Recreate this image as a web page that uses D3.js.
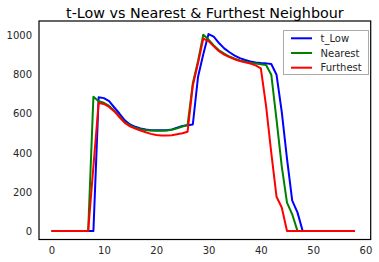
<!DOCTYPE html>
<html>
<head>
<meta charset="utf-8">
<script src="https://cdn.jsdelivr.net/npm/d3@7"></script>
<style>
  body { margin: 0; background: #fff; }
  text { font-family: "DejaVu Sans", sans-serif; }
</style>
</head>
<body>
<svg id="chart"></svg>
<script>
// Data
const steps = [0, 1, 2, 3, 4, 5, 6, 7, 8, 9, 10, 11, 12, 13, 14, 15, 16, 17, 18, 19,
  20, 21, 22, 23, 24, 25, 26, 27, 28, 29, 30, 31, 32, 33, 34, 35, 36, 37, 38, 39,
  40, 41, 42, 43, 44, 45, 46, 47, 48, 49, 50, 51, 52, 53, 54, 55, 56, 57, 58];

const tLow = [0, 0, 0, 0, 0, 0, 0, 0, 0, 684, 680, 665, 632, 600, 566, 545, 533, 525, 519, 516,
  515, 515, 516, 520, 529, 537, 541, 545, 790, 905, 1008, 995, 962, 935, 915, 898, 885, 875, 868, 863,
  860, 858, 855, 800, 610, 370, 155, 95, 0, 0, 0, 0, 0, 0, 0, 0, 0, 0, 0];

const nearest = [0, 0, 0, 0, 0, 0, 0, 0, 687, 664, 656, 640, 615, 585, 556, 540, 528, 521, 517, 514,
  513, 513, 514, 518, 525, 535, 542, 756, 870, 1005, 980, 950, 925, 908, 893, 882, 873, 866, 861, 857,
  853, 850, 800, 570, 330, 145, 85, 0, 0, 0, 0, 0, 0, 0, 0, 0, 0, 0, 0];

const furthest = [0, 0, 0, 0, 0, 0, 0, 0, 330, 655, 650, 635, 612, 582, 553, 535, 524, 514, 505, 497,
  491, 489, 488, 490, 495, 500, 508, 745, 860, 985, 972, 945, 920, 903, 890, 879, 870, 863, 857, 848,
  833, 640, 400, 175, 120, 0, 0, 0, 0, 0, 0, 0, 0, 0, 0, 0, 0, 0, 0];

const seriesNames = ["t_Low", "Nearest", "Furthest"];
const seriesColors = ["#0000ff", "#008000", "#ff0000"];
const xTicks = [0, 10, 20, 30, 40, 50, 60];
const yTicks = [0, 200, 400, 600, 800, 1000];

// Dimensions
const Width = 379;
const Height = 262;
const plotLeft = 39, plotRight = 370.7, plotTop = 21, plotBottom = 239.5;

const svg = d3.select("#chart")
  .attr("width", Width)
  .attr("height", Height);

const xScale = d3.scaleLinear().domain([-2.4, 61]).range([plotLeft, plotRight]);
const yScale = d3.scaleLinear().domain([-44, 1075]).range([plotBottom, plotTop]);

// Axes (no tick marks, just labels)
const xAxis = svg.append("g")
  .attr("transform", `translate(0, ${plotBottom})`)
  .call(d3.axisBottom(xScale).tickValues(xTicks).tickSize(0).tickPadding(7).tickFormat(d3.format("d")));
xAxis.select(".domain").remove();
xAxis.selectAll("text").attr("font-size", 10).attr("fill", "#262626")
  .style("font-family", "DejaVu Sans");

const yAxis = svg.append("g")
  .attr("transform", `translate(${plotLeft}, 0)`)
  .call(d3.axisLeft(yScale).tickValues(yTicks).tickSize(0).tickPadding(7).tickFormat(d3.format("d")));
yAxis.select(".domain").remove();
yAxis.selectAll("text").attr("font-size", 10).attr("fill", "#262626")
  .style("font-family", "DejaVu Sans");

// Lines
const seriesData = [tLow, nearest, furthest];
const line = d3.line()
  .x((d, i) => xScale(steps[i]))
  .y(d => yScale(d));

svg.append("g")
  .selectAll("path")
  .data(seriesData)
  .enter()
  .append("path")
  .attr("d", d => line(d))
  .attr("fill", "none")
  .attr("stroke", (d, i) => seriesColors[i])
  .attr("stroke-width", 2)
  .attr("stroke-linejoin", "round");

// Frame
svg.append("rect")
  .attr("x", plotLeft)
  .attr("y", plotTop)
  .attr("width", plotRight - plotLeft)
  .attr("height", plotBottom - plotTop)
  .attr("fill", "none")
  .attr("stroke", "#000")
  .attr("stroke-width", 1.2);

// Title
svg.append("text")
  .attr("x", (plotLeft + plotRight) / 2)
  .attr("y", 17.5)
  .attr("text-anchor", "middle")
  .attr("font-size", 14.3)
  .attr("fill", "#000")
  .text("t-Low vs Nearest & Furthest Neighbour");

// Legend
const legend = svg.append("g");
legend.append("rect")
  .attr("x", 283.5)
  .attr("y", 30.5)
  .attr("width", 85)
  .attr("height", 44)
  .attr("fill", "#fff")
  .attr("stroke", "#aaa")
  .attr("stroke-width", 1);

const rows = legend.selectAll("g.row")
  .data(seriesNames)
  .enter()
  .append("g")
  .attr("class", "row")
  .attr("transform", (d, i) => `translate(0, ${38.3 + i * 14.7})`);

rows.append("line")
  .attr("x1", 291).attr("x2", 312)
  .attr("y1", 0).attr("y2", 0)
  .attr("stroke", (d, i) => seriesColors[i])
  .attr("stroke-width", 2);

rows.append("text")
  .attr("x", 320.5)
  .attr("y", 0)
  .attr("dy", "0.35em")
  .attr("font-size", 10)
  .attr("fill", "#262626")
  .text(d => d);
</script>
</body>
</html>
